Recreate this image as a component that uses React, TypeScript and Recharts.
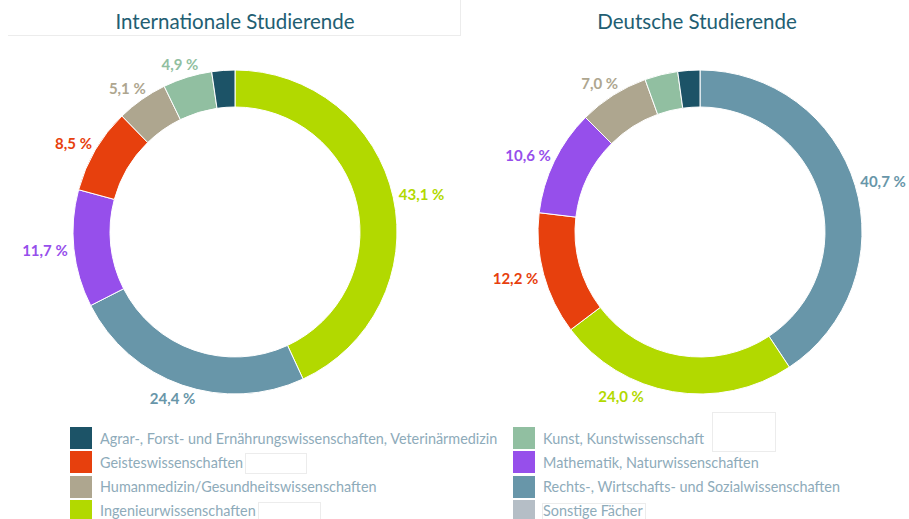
import { PieChart, Pie, Cell } from "recharts";

const CATEGORIES = [
  "Agrar-, Forst- und Ernährungswissenschaften, Veterinärmedizin",
  "Geisteswissenschaften",
  "Humanmedizin/Gesundheitswissenschaften",
  "Ingenieurwissenschaften",
  "Kunst, Kunstwissenschaft",
  "Mathematik, Naturwissenschaften",
  "Rechts-, Wirtschafts- und Sozialwissenschaften",
  "Sonstige Fächer",
];

const COLORS: Record<string, string> = {
  "Agrar-, Forst- und Ernährungswissenschaften, Veterinärmedizin": "#1c5367",
  Geisteswissenschaften: "#e7400d",
  "Humanmedizin/Gesundheitswissenschaften": "#aea68f",
  Ingenieurwissenschaften: "#b2d900",
  "Kunst, Kunstwissenschaft": "#91bfa1",
  "Mathematik, Naturwissenschaften": "#964feb",
  "Rechts-, Wirtschafts- und Sozialwissenschaften": "#6896a9",
  "Sonstige Fächer": "#b5bec6",
};

// order as drawn, clockwise from 12 o'clock
const intlFields = [
  "Ingenieurwissenschaften",
  "Rechts-, Wirtschafts- und Sozialwissenschaften",
  "Mathematik, Naturwissenschaften",
  "Geisteswissenschaften",
  "Humanmedizin/Gesundheitswissenschaften",
  "Kunst, Kunstwissenschaft",
  "Agrar-, Forst- und Ernährungswissenschaften, Veterinärmedizin",
];
const intlValues = [43.1, 24.4, 11.7, 8.5, 5.1, 4.9, 2.3];

const deFields = [
  "Rechts-, Wirtschafts- und Sozialwissenschaften",
  "Ingenieurwissenschaften",
  "Geisteswissenschaften",
  "Mathematik, Naturwissenschaften",
  "Humanmedizin/Gesundheitswissenschaften",
  "Kunst, Kunstwissenschaft",
  "Agrar-, Forst- und Ernährungswissenschaften, Veterinärmedizin",
];
const deValues = [40.7, 24.0, 12.2, 10.6, 7.0, 3.3, 2.2];

const RADIAN = Math.PI / 180;
const FONT = "Lato, 'Open Sans', sans-serif";

function fmt(v: number) {
  return v.toFixed(1).replace(".", ",") + " %";
}

function renderLabel(props: any) {
  const { cx, cy, midAngle, outerRadius, value, payload } = props;
  if (value < 4) return null;
  const text = fmt(value);
  const w = text.length * 7.7;
  const h = 16;
  const dx = Math.cos(-midAngle * RADIAN);
  const dy = Math.sin(-midAngle * RADIAN);
  const r = outerRadius + 6;
  // label box sits just outside the ring, pushed out along the slice direction
  let x = cx + r * dx + (dx * w) / 2;
  let y = cy + r * dy + (dy * h) / 2;
  if (Math.abs(dx) < 0.25 && dy > 0) {
    // near the bottom: move the label sideways, beside the ring
    const yy = outerRadius + 2;
    const rr = outerRadius + 20;
    x = cx + Math.sign(dx || 1) * Math.sqrt(rr * rr - yy * yy);
    y = cy + yy;
  }
  return (
    <text
      x={x}
      y={y}
      fill={COLORS[payload.name]}
      textAnchor="middle"
      dominantBaseline="central"
      fontFamily={FONT}
      fontWeight={700}
      fontSize={15}
    >
      {text}
    </text>
  );
}

function toData(fields: string[], values: number[]) {
  return fields.map((name, i) => ({ name, value: values[i] }));
}

function Donut({ fields, values, cx }: { fields: string[]; values: number[]; cx: number }) {
  const data = toData(fields, values);
  return (
    <Pie
      key={cx}
      data={data}
      dataKey="value"
      nameKey="name"
      cx={cx}
      cy={232}
      innerRadius={125}
      outerRadius={162}
      startAngle={90}
      endAngle={-270}
      stroke="#ffffff"
      strokeWidth={1}
      label={renderLabel}
      labelLine={false}
      isAnimationActive={false}
    >
      {data.map((d) => (
        <Cell key={d.name} fill={COLORS[d.name]} />
      ))}
    </Pie>
  );
}

const faint = "1px solid #ececec";

export default function App() {
  const left = CATEGORIES.slice(0, 4);
  const right = CATEGORIES.slice(4);
  const legendCol = (items: string[], x: number) =>
    items.map((c, i) => (
      <div
        key={c}
        style={{ position: "absolute", left: x, top: 427 + i * 24.3, height: 22, display: "flex", alignItems: "center" }}
      >
        <div style={{ width: 22, height: 22, background: COLORS[c], marginRight: 8 }} />
        <span style={{ fontFamily: FONT, fontSize: 14.4, color: "#8eabba", whiteSpace: "nowrap" }}>{c}</span>
      </div>
    ));

  return (
    <div style={{ position: "fixed", top: 0, left: 0, width: 909, height: 519, background: "#fff", overflow: "hidden" }}>
      <div style={{ position: "absolute", left: 8, top: 0, width: 452, height: 35, borderBottom: faint, borderRight: faint }} />
      <div
        style={{ position: "absolute", left: 0, width: 470, top: 9, textAlign: "center", fontFamily: FONT, fontSize: 20.5, color: "#225e72" }}
      >
        Internationale Studierende
      </div>
      <div
        style={{ position: "absolute", left: 462, width: 470, top: 9, textAlign: "center", fontFamily: FONT, fontSize: 20.5, color: "#225e72" }}
      >
        Deutsche Studierende
      </div>
      <PieChart
        width={909}
        height={519}
        margin={{ top: 0, right: 0, bottom: 0, left: 0 }}
        style={{ position: "absolute", left: 0, top: 0 }}
      >
        {Donut({ fields: intlFields, values: intlValues, cx: 235 })}
        {Donut({ fields: deFields, values: deValues, cx: 700 })}
      </PieChart>
      {legendCol(left, 70)}
      {legendCol(right, 513)}
      <div style={{ position: "absolute", left: 245, top: 453, width: 60, height: 19, border: faint }} />
      <div style={{ position: "absolute", left: 258, top: 502, width: 61, height: 19, border: faint }} />
      <div style={{ position: "absolute", left: 712, top: 412, width: 62, height: 38, border: faint }} />
      <div style={{ position: "absolute", left: 542, top: 503, width: 102, height: 19, border: faint }} />
    </div>
  );
}
